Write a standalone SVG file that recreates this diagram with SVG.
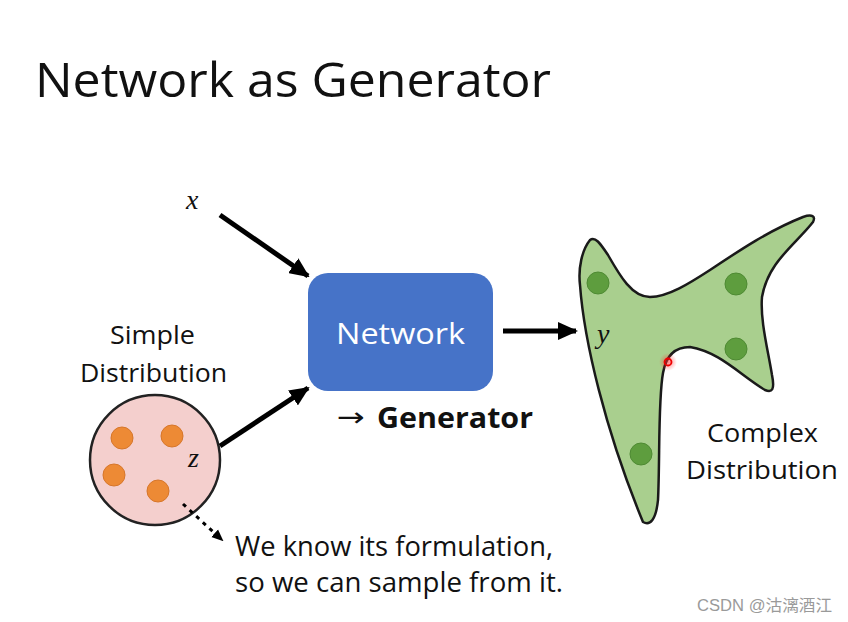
<svg xmlns="http://www.w3.org/2000/svg" width="848" height="622" viewBox="0 0 848 622">
<defs>
<marker id="ah" markerWidth="20" markerHeight="18" refX="18" refY="9" orient="auto" markerUnits="userSpaceOnUse" viewBox="0 0 20 18">
<path d="M0,0 L20,9 L0,18 z" fill="#000"/>
</marker>
<marker id="ahs" markerWidth="12" markerHeight="12" refX="10" refY="6" orient="auto" markerUnits="userSpaceOnUse" viewBox="0 0 12 12">
<path d="M0,1 L12,6 L0,11 z" fill="#000"/>
</marker>
<radialGradient id="glow"><stop offset="0" stop-color="#ff3030" stop-opacity="0.6"/><stop offset="1" stop-color="#ff3030" stop-opacity="0"/></radialGradient>
</defs>
<style>
.t{font-family:"Open Sans","Liberation Sans",sans-serif;fill:#111}
.m{font-family:"Liberation Serif","DejaVu Serif",serif;font-style:italic;fill:#111}
.conn{stroke:#000;stroke-width:5;fill:none}
.orange{fill:#ED8A35;stroke:#D6762A;stroke-width:1}
.green{fill:#5E9D3E;stroke:#4E8A33;stroke-width:1}
</style>
<rect width="848" height="622" fill="#fff"/>
<text class="t" x="35" y="97" font-size="48" textLength="516" lengthAdjust="spacingAndGlyphs">Network as Generator</text>

<g id="simple-distribution">
<circle cx="155" cy="460" r="65" fill="#F4CFCD" stroke="#222" stroke-width="2.5"/>
<circle class="orange" cx="122" cy="438" r="11"/>
<circle class="orange" cx="172" cy="436" r="11"/>
<circle class="orange" cx="114" cy="475" r="11"/>
<circle class="orange" cx="158" cy="491" r="11"/>
<text class="m" x="188" y="467" font-size="28">z</text>
<text class="t" x="110" y="344" font-size="26" textLength="85" lengthAdjust="spacingAndGlyphs">Simple</text>
<text class="t" x="80" y="382" font-size="26" textLength="147" lengthAdjust="spacingAndGlyphs">Distribution</text>
</g>

<g id="x-input">
<text class="m" x="186" y="209" font-size="28">x</text>
</g>

<g id="network">
<rect x="308" y="273" width="185" height="118" rx="20" fill="#4673C8"/>
<text class="t" x="336" y="344" font-size="30" style="fill:#fff" textLength="129" lengthAdjust="spacingAndGlyphs">Network</text>
<text x="337" y="426" font-size="26" font-family="'DejaVu Sans',sans-serif" fill="#111" textLength="28" lengthAdjust="spacingAndGlyphs">→</text>
<text class="t" x="377" y="428" font-size="28" font-weight="bold" textLength="156" lengthAdjust="spacingAndGlyphs">Generator</text>
</g>

<g id="complex-distribution">
<path d="M590,240 C582,250 578,268 580,285 C584,340 605,430 643,522 C650,526 656,520 658,500 C660,460 658,400 663,373 C666,355 675,347 690,347 C720,352 740,375 765,390 C772,393 775,390 772,375 C768,350 760,320 762,297 C768,262 795,245 813,222 C816,216 812,214 803,217 C770,230 740,250 710,270 C690,283 668,297 650,297 C632,297 620,276 608,255 C600,243 595,236 590,240 Z" fill="#A9CF8E" stroke="#1a1a1a" stroke-width="2.5"/>
<circle class="green" cx="598" cy="283" r="11"/>
<circle class="green" cx="736" cy="284" r="11"/>
<circle class="green" cx="736" cy="349" r="11"/>
<circle class="green" cx="641" cy="454" r="11"/>
<circle cx="668" cy="362" r="9" fill="url(#glow)"/>
<circle cx="668" cy="362" r="3.5" fill="none" stroke="#e00" stroke-width="1.8"/>
<text class="m" x="597" y="343" font-size="28">y</text>
<text class="t" x="707" y="442" font-size="26" textLength="111" lengthAdjust="spacingAndGlyphs">Complex</text>
<text class="t" x="686" y="479" font-size="26" textLength="152" lengthAdjust="spacingAndGlyphs">Distribution</text>
</g>

<g id="note">
<text class="t" x="235" y="556" font-size="27" textLength="318" lengthAdjust="spacingAndGlyphs">We know its formulation,</text>
<text class="t" x="235" y="592" font-size="27" textLength="328" lengthAdjust="spacingAndGlyphs">so we can sample from it.</text>
</g>

<g id="connectors">
<line class="conn" x1="220" y1="215" x2="308" y2="276" marker-end="url(#ah)"/>
<line class="conn" x1="220" y1="446" x2="308" y2="388" marker-end="url(#ah)"/>
<line class="conn" x1="503" y1="331" x2="576" y2="331" marker-end="url(#ah)"/>
<line x1="183" y1="504" x2="222" y2="540" stroke="#000" stroke-width="3" stroke-dasharray="4,5" marker-end="url(#ahs)"/>
</g>

<text x="697" y="611" font-size="16" font-family="'Liberation Sans','Noto Sans CJK SC',sans-serif" fill="#9a9a9a" textLength="135" lengthAdjust="spacingAndGlyphs">CSDN @沽漓酒江</text>
</svg>
